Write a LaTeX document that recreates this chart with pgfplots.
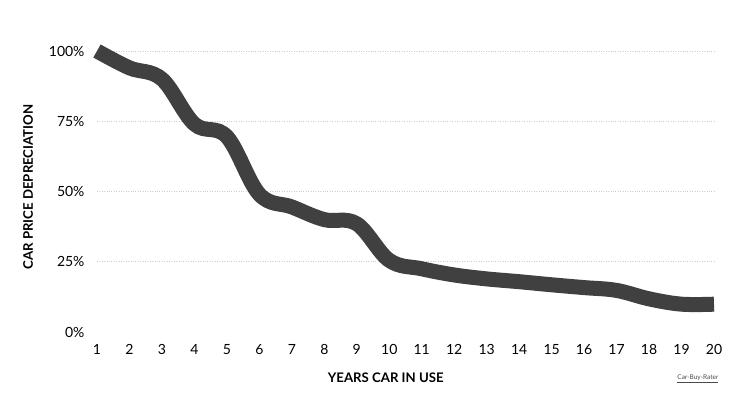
\documentclass[border=0pt]{standalone}
\usepackage{pgfplots}
\pgfplotsset{compat=1.18}
\usepackage{fontspec}
\setmainfont{Lato}
\definecolor{linec}{HTML}{404040}
\definecolor{gridc}{HTML}{CCCCCC}
\begin{document}
\begin{tikzpicture}
\path[use as bounding box] (-97pt,-77pt) rectangle (653pt,332pt);
\begin{axis}[
  at={(0,0)}, anchor=origin,
  scale only axis, width=617pt, height=281pt,
  xmin=1, xmax=20, ymin=0, ymax=100,
  clip=false,
  axis line style={draw=none},
  xtick={1,...,20},
  ytick={25,50,75,100},
  yticklabels={25\%,50\%,75\%,100\%},
  extra y ticks={0}, extra y tick labels={0\%},
  extra y tick style={grid=none},
  ymajorgrids,
  grid style={gridc, dotted, line width=0.6pt},
  major tick length=0pt,
  tick style={draw=none},
  /pgf/number format/assume math mode=true,
  tick label style={font=\fontsize{14}{16}\selectfont, text=black},
  xticklabel style={yshift=-9pt},
  yticklabel style={xshift=-9pt},
]
\addplot[linec, line width=15pt, line cap=butt, smooth, tension=0.6] coordinates {
(1,100) (2,94) (3,90) (4,74) (5,69.5) (6,49) (7,44.5) (8,40) (9,38.5) (10,25.5)
(11,22.5) (12,20.3) (13,18.9) (14,17.9) (15,16.8) (16,15.8) (17,14.8) (18,11.8) (19,9.9) (20,9.9)
};
\node[font=\bfseries\fontsize{13.2}{15}\selectfont, rotate=90] at (axis description cs:-0.1118,0.516) {CAR PRICE DEPRECIATION};
\node[font=\bfseries\fontsize{13.2}{15}\selectfont] at (axis description cs:0.468,-0.164) {YEARS CAR IN USE};
\node[font=\fontsize{6.5}{8}\selectfont, text=black!70] at (axis description cs:0.974,-0.167) {\underline{Car-Buy-Rater}};
\end{axis}
\end{tikzpicture}
\end{document}
